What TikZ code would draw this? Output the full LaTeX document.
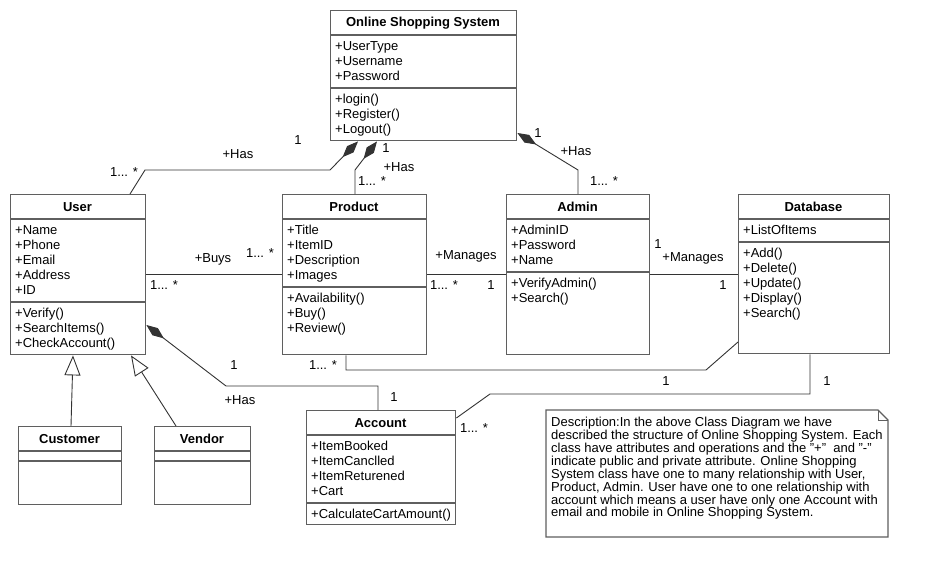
\documentclass[tikz,border=0pt]{standalone}
\usepackage{fontspec}
\setmainfont{Liberation Sans}
\usetikzlibrary{arrows.meta}
\newcommand\umlfont{\fontsize{13}{15}\selectfont}
\definecolor{boxgray}{RGB}{95,95,95}
\tikzset{
  cls/.style={draw=boxgray, line width=1.4pt, fill=white, anchor=north west, inner sep=0pt},
  sep/.style={draw=boxgray, line width=1.4pt},
  ttl/.style={font=\umlfont\bfseries, inner sep=0pt, yshift=-1pt},
  mem/.style={font=\umlfont, anchor=north west, inner sep=0pt, align=left, yshift=-1pt},
  lbl/.style={font=\umlfont, inner sep=0pt},
  assoc/.style={draw=black!80, line width=0.9pt},
  comp/.style={assoc, {Diamond[length=22pt,width=9pt]}-},
  gen/.style={assoc, -{Triangle[open,length=20pt,width=16pt]}},
}
\begin{document}
\begin{tikzpicture}[x=1pt,y=-1pt,line join=miter]
\useasboundingbox (0,0) rectangle (929,578);
% Online Shopping System
\node[cls, minimum width=186pt, minimum height=130pt] (oss) at (330,10) {};
\draw[sep] (oss.west |- 0,35) -- (oss.east |- 0,35);
\draw[sep] (oss.west |- 0,88) -- (oss.east |- 0,88);
\node[ttl] (ossT) at (423,22) {Online Shopping System};
\node[mem] (ossA) at (335,40) {+UserType\\+Username\\+Password};
\node[mem] (ossM) at (335,93) {+login()\\+Register()\\+Logout()};
% User
\node[cls, minimum width=135pt, minimum height=160pt] (user) at (10,194) {};
\draw[sep] (user.west |- 0,219) -- (user.east |- 0,219);
\draw[sep] (user.west |- 0,302) -- (user.east |- 0,302);
\node[ttl] (userT) at (77.5,206) {User};
\node[mem] (userA) at (15,224) {+Name\\+Phone\\+Email\\+Address\\+ID};
\node[mem] (userM) at (15,307) {+Verify()\\+SearchItems()\\+CheckAccount()};
% Product
\node[cls, minimum width=144pt, minimum height=160pt] (product) at (282,194) {};
\draw[sep] (product.west |- 0,219) -- (product.east |- 0,219);
\draw[sep] (product.west |- 0,287) -- (product.east |- 0,287);
\node[ttl] (productT) at (354,206) {Product};
\node[mem] (productA) at (287,224) {+Title\\+ItemID\\+Description\\+Images};
\node[mem] (productM) at (287,292) {+Availability()\\+Buy()\\+Review()};
% Admin
\node[cls, minimum width=143pt, minimum height=160pt] (admin) at (506,194) {};
\draw[sep] (admin.west |- 0,219) -- (admin.east |- 0,219);
\draw[sep] (admin.west |- 0,272) -- (admin.east |- 0,272);
\node[ttl] (adminT) at (577.5,206) {Admin};
\node[mem] (adminA) at (511,224) {+AdminID\\+Password\\+Name};
\node[mem] (adminM) at (511,277) {+VerifyAdmin()\\+Search()};
% Database
\node[cls, minimum width=151pt, minimum height=159pt] (database) at (738,194) {};
\draw[sep] (database.west |- 0,219) -- (database.east |- 0,219);
\draw[sep] (database.west |- 0,242) -- (database.east |- 0,242);
\node[ttl] (databaseT) at (813.5,206) {Database};
\node[mem] (databaseA) at (743,224) {+ListOfItems};
\node[mem] (databaseM) at (743,247) {+Add()\\+Delete()\\+Update()\\+Display()\\+Search()};
% Customer, Vendor
\node[cls, minimum width=103pt, minimum height=78pt] (customer) at (18,426) {};
\draw[sep] (customer.west |- 0,451) -- (customer.east |- 0,451);
\draw[sep] (customer.west |- 0,461) -- (customer.east |- 0,461);
\node[ttl] (customerT) at (69.5,438) {Customer};
\node[cls, minimum width=96pt, minimum height=78pt] (vendor) at (154,426) {};
\draw[sep] (vendor.west |- 0,451) -- (vendor.east |- 0,451);
\draw[sep] (vendor.west |- 0,461) -- (vendor.east |- 0,461);
\node[ttl] (vendorT) at (202,438) {Vendor};
% Account
\node[cls, minimum width=149pt, minimum height=114pt] (account) at (306,410) {};
\draw[sep] (account.west |- 0,435) -- (account.east |- 0,435);
\draw[sep] (account.west |- 0,503) -- (account.east |- 0,503);
\node[ttl] (accountT) at (380.5,422) {Account};
\node[mem] (accountA) at (311,440) {+ItemBooked\\+ItemCanclled\\+ItemReturened\\+Cart};
\node[mem] (accountM) at (311,508) {+CalculateCartAmount()};
% note
\draw[sep, fill=white] (546,410) -- (878,410) -- (888,420) -- (888,537) -- (546,537) -- cycle;
\draw[sep, line width=1pt] (878,410) -- (878,420) -- (888,420);
\node[mem, font=\fontsize{13}{12.9}\selectfont] (note) at (551,416) {Description:In the above Class Diagram we have\\
described the structure of Online Shopping System. Each\\
class have attributes and operations and the "+"~~and "-"\\
indicate public and private attribute. Online Shopping\\
System class have one to many relationship with User,\\
Product, Admin. User have one to one relationship with\\
account which means a user have only one Account with\\
email and mobile in Online Shopping System.};
%
% compositions
\draw[comp] (oss.south -| 358,0) -- (330,170) -- (145,170) -- (user.north -| 130,0);
\node[lbl] at (298,140) {1};
\node[lbl] at (238,154) {+Has};
\node[lbl] at (124,172) {1... *};
\draw[comp] (oss.south -| 377,0) -- (355,170) -- (product.north -| 355,0);
\node[lbl] at (386,148) {1};
\node[lbl] at (399,167) {+Has};
\node[lbl] at (372,181) {1... *};
\draw[comp] (oss.east |- 0,133) -- (578,170) -- (admin.north -| 578,0);
\node[lbl] at (538,133) {1};
\node[lbl] at (576,151) {+Has};
\node[lbl] at (604,181) {1... *};
\draw[comp] (user.east |- 0,325) -- (226,386) -- (378,386) -- (account.north -| 378,0);
\node[lbl] at (234,365) {1};
\node[lbl] at (240,400) {+Has};
\node[lbl] at (394,397) {1};
% associations
\draw[assoc] (user.east |- 0,274) -- (product.west |- 0,274);
\node[lbl] at (213,259) {+Buys};
\node[lbl] at (260,253) {1... *};
\node[lbl] at (164,285) {1... *};
\draw[assoc] (product.east |- 0,274) -- (admin.west |- 0,274);
\node[lbl] at (466,256) {+Manages};
\node[lbl] at (444,285) {1... *};
\node[lbl] at (491,285) {1};
\draw[assoc] (admin.east |- 0,274) -- (database.west |- 0,274);
\node[lbl] at (658,244) {1};
\node[lbl] at (693,258) {+Manages};
\node[lbl] at (723,285) {1};
\draw[assoc] (product.south -| 346,0) -- (346,370) -- (706,370) -- (database.west |- 0,342);
\node[lbl] at (323,365) {1... *};
\node[lbl] at (666,381) {1};
\draw[assoc] (account.east |- 0,418) -- (490,394) -- (810,394) -- (database.south -| 810,0);
\node[lbl] at (474,428) {1... *};
\node[lbl] at (827,381) {1};
% generalizations
\draw[gen] (customer.north -| 71,0) -- (user.south -| 73,0);
\draw[gen] (vendor.north -| 176,0) -- (user.south -| 131,0);
\end{tikzpicture}
\end{document}
